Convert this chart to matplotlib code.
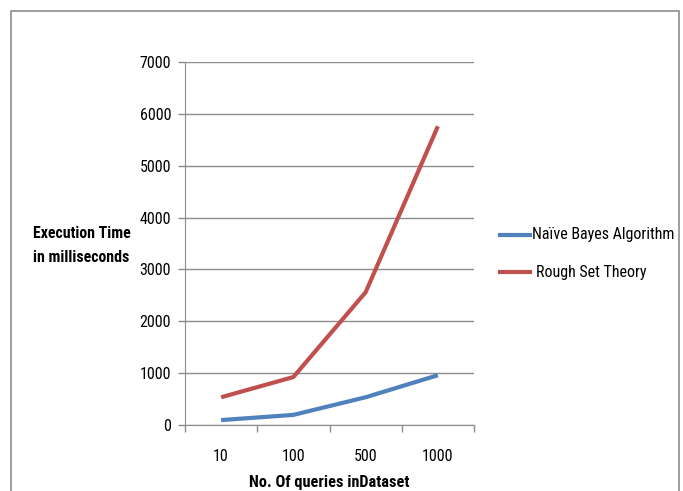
import matplotlib
matplotlib.use("Agg")
import matplotlib.pyplot as plt
from matplotlib.patches import Rectangle
from matplotlib.lines import Line2D
from matplotlib import font_manager

names = {f.name for f in font_manager.fontManager.ttflist}
fam = [n for n in ['Roboto Condensed', 'Liberation Sans Narrow', 'Roboto'] if n in names] + ['DejaVu Sans']
plt.rcParams['font.family'] = fam

categories = ["10", "100", "500", "1000"]
naive_bayes = [95, 195, 535, 960]
rough_set = [535, 925, 2560, 5760]
series_names = ["Naïve Bayes Algorithm", "Rough Set Theory"]
y_ticks = [0, 1000, 2000, 3000, 4000, 5000, 6000, 7000]

W, H = 683, 491
fig = plt.figure(figsize=(W/100, H/100), dpi=100)
fig.patch.set_facecolor('white')

# chart-area border
fig.patches.append(Rectangle((11/W, -0.05), (679-11)/W, 1.05 - 11/H, transform=fig.transFigure,
                             fill=False, edgecolor='#8c8c8c', linewidth=1.2))

ax = fig.add_axes([185/W, 1-425/H, (474-185)/W, (425-62)/H])
x = list(range(len(categories)))
ax.plot(x, naive_bayes, color='#4F81BD', linewidth=3.0, solid_capstyle='butt', label=series_names[0])
ax.plot(x, rough_set, color='#C0504D', linewidth=3.0, solid_capstyle='butt', label=series_names[1])

ax.set_xlim(-0.5, len(categories)-0.5)
ax.set_ylim(0, 7000)
ax.set_yticks(y_ticks)
ax.set_yticklabels([str(v) for v in y_ticks], fontsize=11.5)
ax.yaxis.grid(True, color='#8c8c8c', linewidth=1.0)
ax.set_axisbelow(True)
ax.set_xticks(x)
ax.set_xticklabels(categories, fontsize=11.5)
ax.set_xticks([i - 0.5 for i in range(len(categories)+1)], minor=True)
ax.tick_params(axis='x', which='major', length=0, pad=17)
ax.tick_params(axis='x', which='minor', length=5, color='#8c8c8c', width=1.0)
ax.tick_params(axis='y', length=5, color='#8c8c8c', width=1.0, pad=5)
for s in ['top', 'right']:
    ax.spines[s].set_visible(False)
ax.spines['left'].set_color('#8c8c8c')
ax.spines['bottom'].set_color('#8c8c8c')

ax.set_xlabel("No. Of queries inDataset", fontsize=11.7, fontweight='bold', labelpad=8)
fig.text(33/W, 1-246/H, "Execution Time\nin milliseconds", fontsize=11.4, fontweight='bold',
         ha='left', va='center', linespacing=1.75)

# legend
fig.lines.append(Line2D([500/W, 530/W], [1-235/H, 1-235/H], transform=fig.transFigure,
                        color='#4F81BD', linewidth=3.0))
fig.text(532/W, 1-235/H, series_names[0], fontsize=11.5, ha='left', va='center')
fig.lines.append(Line2D([500/W, 530/W], [1-272/H, 1-272/H], transform=fig.transFigure,
                        color='#C0504D', linewidth=3.0))
fig.text(536/W, 1-272/H, series_names[1], fontsize=11.5, ha='left', va='center')

fig.savefig("out.png", dpi=100)
